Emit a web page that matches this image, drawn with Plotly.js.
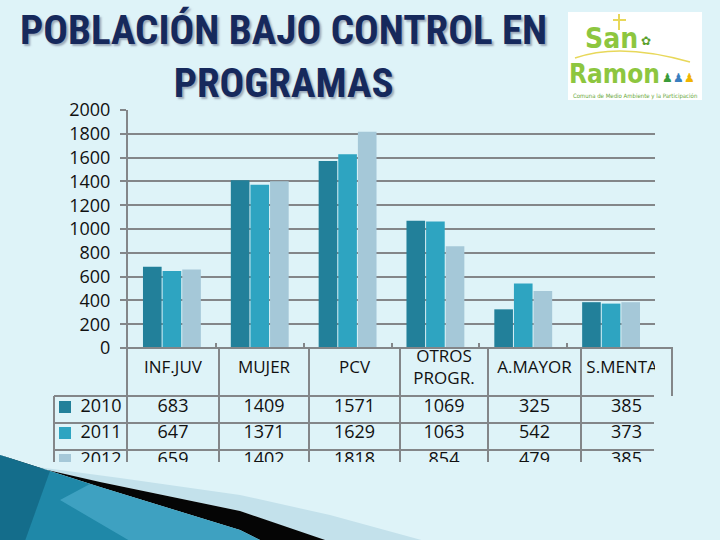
<!DOCTYPE html>
<html>
<head>
<meta charset="utf-8">
<script src="https://cdn.plot.ly/plotly-3.0.1.min.js"></script>
<style>html,body{margin:0;padding:0;background:#def3f8;}#chart{width:720px;height:540px;}</style>
</head>
<body>
<div id="chart"></div>
<script>
// ---- data ----
const categories = ['INF.JUV', 'MUJER', 'PCV', 'OTROS PROGR.', 'A.MAYOR', 'S.MENTAL'];
const headerLabels = ['INF.JUV', 'MUJER', 'PCV', 'OTROS<br>PROGR.', 'A.MAYOR', 'S.MENTAL'];
const years = ['2010', '2011', '2012'];
const values2010 = [683, 1409, 1571, 1069, 325, 385];
const values2011 = [647, 1371, 1629, 1063, 542, 373];
const values2012 = [659, 1402, 1818, 854, 479, 385];
const seriesColors = ['#22809a', '#2ea4c1', '#a5c8d8'];
const yTicks = [0, 200, 400, 600, 800, 1000, 1200, 1400, 1600, 1800, 2000];
const titleLine1 = 'POBLACIÓN BAJO CONTROL EN';
const titleLine2 = 'PROGRAMAS';

// ---- layout constants (pixels in a 720x540 page) ----
const W = 720, H = 540;
const GRID = '#838689';
const FONT = 'Open Sans, Liberation Sans, sans-serif';
const px = x => x / W;
const py = y => 1 - y / H;
const colEdges = [127, 219, 309, 400, 488, 581, 672];
const colCenters = colEdges.slice(0, 6).map((e, i) => (e + colEdges[i + 1]) / 2);
const rowY = [407, 433, 460];
const allValues = [values2010, values2011, values2012];

const traces = [];
allValues.forEach((vals, i) => {
  traces.push({
    type: 'bar', x: categories, y: vals, name: years[i],
    marker: {color: seriesColors[i]}, xaxis: 'x', yaxis: 'y', showlegend: false
  });
});
// table header
traces.push({
  type: 'scatter', mode: 'text', x: colCenters, y: colCenters.map(() => 369),
  text: headerLabels, textposition: 'middle center', cliponaxis: true,
  textfont: {family: FONT, size: 17, color: '#111'}, xaxis: 'x2', yaxis: 'y2',
  showlegend: false, hoverinfo: 'skip'
});
allValues.forEach((vals, i) => {
  traces.push({
    type: 'scatter', mode: 'text', x: colCenters, y: colCenters.map(() => rowY[i]),
    text: vals.map(String), textposition: 'middle center', cliponaxis: true,
    textfont: {family: FONT, size: 18, color: '#111'}, xaxis: 'x2', yaxis: 'y2',
    showlegend: false, hoverinfo: 'skip'
  });
  traces.push({
    type: 'scatter', mode: 'text', x: [101], y: [rowY[i]], text: [years[i]],
    textposition: 'middle center', cliponaxis: true,
    textfont: {family: FONT, size: 18, color: '#111'}, xaxis: 'x2', yaxis: 'y2',
    showlegend: false, hoverinfo: 'skip'
  });
  traces.push({
    type: 'scatter', mode: 'markers', x: [65], y: [rowY[i]], cliponaxis: true,
    marker: {symbol: 'square', size: 12, color: seriesColors[i]},
    xaxis: 'x2', yaxis: 'y2', showlegend: false, hoverinfo: 'skip'
  });
});

const shapes = [];
// table lines (clipped to the table area)
colEdges.slice(0, 6).forEach(x => shapes.push({type: 'line', xref: 'x2', yref: 'y2', x0: x, x1: x, y0: 348, y1: 470, line: {color: GRID, width: 2}}));
shapes.push({type: 'line', xref: 'x2', yref: 'y2', x0: 54, x1: 54, y0: 396, y1: 470, line: {color: GRID, width: 2}});
[396, 423, 450].forEach(y => shapes.push({type: 'line', xref: 'x2', yref: 'y2', x0: 54, x1: 654, y0: y, y1: y, line: {color: GRID, width: 2}}));
// axis line extension and right header border
shapes.push({type: 'line', xref: 'paper', yref: 'paper', x0: px(120), x1: px(673), y0: py(348), y1: py(348), line: {color: GRID, width: 2}});
shapes.push({type: 'line', xref: 'paper', yref: 'paper', x0: px(672), x1: px(672), y0: py(348), y1: py(396), line: {color: GRID, width: 2}});
// decorative swoosh
const poly = pts => 'M' + pts.map(p => px(p[0]) + ',' + py(p[1])).join(' L') + ' Z';
shapes.push({type: 'path', xref: 'paper', yref: 'paper', path: poly([[30, 466], [120, 478], [240, 495], [330, 515], [425, 541], [326, 541], [240, 511], [100, 482]]), fillcolor: '#c3e1eb', line: {width: 0}, layer: 'above'});
shapes.push({type: 'path', xref: 'paper', yref: 'paper', path: poly([[0, 455], [30, 466], [100, 482], [240, 511], [328, 541], [262, 541], [240, 530], [100, 487]]), fillcolor: '#050505', line: {width: 0}, layer: 'above'});
shapes.push({type: 'path', xref: 'paper', yref: 'paper', path: poly([[0, 455], [100, 487], [240, 530], [262, 541], [0, 541]]), fillcolor: '#1f88a8', line: {width: 0}, layer: 'above'});
shapes.push({type: 'path', xref: 'paper', yref: 'paper', path: poly([[90, 484], [240, 530], [262, 541], [130, 541], [60, 500]]), fillcolor: 'rgba(110,200,230,0.4)', line: {width: 0}, layer: 'above'});
shapes.push({type: 'path', xref: 'paper', yref: 'paper', path: poly([[0, 455], [50, 471], [25, 541], [0, 541]]), fillcolor: 'rgba(0,60,85,0.35)', line: {width: 0}, layer: 'above'});
// logo box
shapes.push({type: 'rect', xref: 'paper', yref: 'paper', x0: px(568), x1: px(702), y0: py(12), y1: py(100), fillcolor: '#ffffff', line: {width: 0}, layer: 'above'});
shapes.push({type: 'line', xref: 'paper', yref: 'paper', x0: px(619), x1: px(619), y0: py(14), y1: py(30), line: {color: '#e8d85a', width: 2}, layer: 'above'});
shapes.push({type: 'line', xref: 'paper', yref: 'paper', x0: px(613), x1: px(626), y0: py(20), y1: py(20), line: {color: '#e8d85a', width: 2}, layer: 'above'});
shapes.push({type: 'path', xref: 'paper', yref: 'paper', path: 'M' + px(575) + ',' + py(58) + ' Q' + px(620) + ',' + py(42) + ' ' + px(690) + ',' + py(62), line: {color: '#e8d85a', width: 1.5}, layer: 'above'});

const annotations = [];
const titleFont = {family: 'Liberation Sans Narrow, Roboto Condensed, DejaVu Sans Condensed, Arial Narrow, sans-serif', size: 41, color: '#16295c', weight: 700, shadow: '2px 2px 2px rgba(100,110,135,0.55)'};
annotations.push({text: titleLine1 + '<br>' + titleLine2, xref: 'paper', yref: 'paper', x: px(283), y: py(57), xanchor: 'center', yanchor: 'middle', align: 'center', showarrow: false, font: titleFont});
const logoFont = 'Liberation Sans Narrow, DejaVu Sans Condensed, sans-serif';
annotations.push({text: 'San', xref: 'paper', yref: 'paper', x: px(611), y: py(38), xanchor: 'center', yanchor: 'middle', showarrow: false, font: {family: logoFont, size: 28, color: '#8dc63f', weight: 700}});
annotations.push({text: 'Ramon', xref: 'paper', yref: 'paper', x: px(614), y: py(74), xanchor: 'center', yanchor: 'middle', showarrow: false, font: {family: logoFont, size: 26, color: '#8dc63f', weight: 700}});
annotations.push({text: '✿', xref: 'paper', yref: 'paper', x: px(646), y: py(40), xanchor: 'center', yanchor: 'middle', showarrow: false, font: {size: 12, color: '#5aa02c'}});
annotations.push({text: '<span style="color:#3a9b3a">♟</span><span style="color:#3a7fc0">♟</span><span style="color:#f0b400">♟</span>', xref: 'paper', yref: 'paper', x: px(678), y: py(77), xanchor: 'center', yanchor: 'middle', showarrow: false, font: {size: 12}});
annotations.push({text: 'Comuna de Medio Ambiente y la Participación', xref: 'paper', yref: 'paper', x: px(635), y: py(96), xanchor: 'center', yanchor: 'middle', showarrow: false, font: {family: 'DejaVu Sans Condensed, sans-serif', size: 6, color: '#6aa83a'}});

const layout = {
  width: W, height: H,
  margin: {l: 0, r: 0, t: 0, b: 0, pad: 0},
  paper_bgcolor: '#def3f8', plot_bgcolor: 'rgba(0,0,0,0)',
  barmode: 'group', bargap: 0.33, bargroupgap: 0.05,
  showlegend: false,
  xaxis: {
    domain: [px(128), px(655)], type: 'category', showticklabels: false,
    ticks: 'inside', tickson: 'boundaries', ticklen: 5, tickcolor: GRID, tickwidth: 2,
    showline: false, showgrid: false, zeroline: false, fixedrange: true
  },
  yaxis: {
    domain: [py(348), py(110)], range: [0, 2000], tickvals: yTicks, ticktext: yTicks.map(String),
    ticks: 'outside', ticklen: 6, tickcolor: GRID, tickwidth: 2,
    showline: true, linecolor: GRID, linewidth: 2,
    showgrid: true, gridcolor: GRID, gridwidth: 2, zeroline: false,
    tickfont: {family: FONT, size: 18, color: '#111'}, ticklabelstandoff: 6, fixedrange: true
  },
  xaxis2: {domain: [0, px(655)], range: [0, 655], visible: false, fixedrange: true},
  yaxis2: {domain: [py(462), py(346)], range: [462, 346], visible: false, fixedrange: true},
  shapes: shapes,
  annotations: annotations
};

Plotly.newPlot('chart', traces, layout, {displayModeBar: false, staticPlot: true});
</script>
</body>
</html>
